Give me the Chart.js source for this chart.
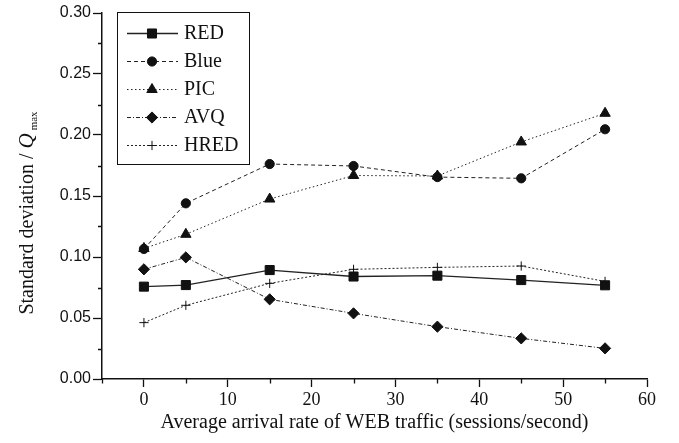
<!DOCTYPE html>
<html>
<head>
<meta charset="utf-8">
<title>Standard deviation vs WEB traffic</title>
<script src="https://cdn.jsdelivr.net/npm/chart.js@4/dist/chart.umd.min.js"></script>
<style>
    html, body { margin: 0; padding: 0; background: #fff; }
    #wrap { width: 679px; height: 443px; }
</style>
</head>
<body>
<div id="wrap"><canvas id="std-chart" width="679" height="443"></canvas></div>
<script>
"use strict"

// Arrival rate (sessions/second) of the simulated WEB traffic
const arrivalRates = [0, 5, 15, 25, 35, 45, 55];

// Standard deviation of the queue, normalised by Q max
const redValues = [0.0757, 0.0770, 0.0893, 0.0840, 0.0847, 0.0811, 0.0768];
const blueValues = [0.1066, 0.1440, 0.1762, 0.1746, 0.1655, 0.1645, 0.2047];
const picValues = [0.1070, 0.1186, 0.1475, 0.1668, 0.1664, 0.1943, 0.2178];
const avqValues = [0.0899, 0.0997, 0.0653, 0.0538, 0.0429, 0.0333, 0.0251];
const hredValues = [0.0462, 0.0604, 0.0784, 0.0899, 0.0915, 0.0926, 0.0800];

const seriesNames = ['RED', 'Blue', 'PIC', 'AVQ', 'HRED'];

const xTicks = [0, 10, 20, 30, 40, 50, 60];
const xMinorTicks = [-5, 5, 15, 25, 35, 45, 55];
const yTicks = [0, 0.05, 0.10, 0.15, 0.20, 0.25, 0.30];
const yMinorTicks = [0.025, 0.075, 0.125, 0.175, 0.225, 0.275];

const serif = '"Liberation Serif", "Times New Roman", serif';
const sans = '"Liberation Sans", Arial, sans-serif';
const ink = '#111';

/**
 * Builds one line dataset with its marker and dash pattern.
 */
function makeSeries(label, values, pointStyle, radius, dash, width) {
    return {
        label: label,
        data: arrivalRates.map((x, i) => ({ x: x, y: values[i] })),
        borderColor: '#222',
        backgroundColor: ink,
        borderWidth: width,
        borderDash: dash,
        pointStyle: pointStyle,
        pointRadius: radius,
        pointBorderColor: ink,
        pointBackgroundColor: ink,
        pointBorderWidth: 1,
        tension: 0,
        fill: false
    };
}

const datasets = [
    makeSeries(seriesNames[0], redValues, 'rect', 6.4, [], 1.3),
    makeSeries(seriesNames[1], blueValues, 'circle', 4.6, [4, 3], 1),
    makeSeries(seriesNames[2], picValues, 'triangle', 6, [1.5, 2.5], 1),
    makeSeries(seriesNames[3], avqValues, 'rectRot', 5.6, [4, 2, 1, 2], 1),
    makeSeries(seriesNames[4], hredValues, 'cross', 4.6, [2, 2], 1)
];

/**
 * Small outward ticks between the labelled ones.
 */
const minorTicks = {
    id: 'minorTicks',
    afterDraw(chart) {
        const { ctx, scales: { x, y } } = chart;
        ctx.save();
        ctx.strokeStyle = ink;
        ctx.lineWidth = 1.3;
        ctx.beginPath();
        xMinorTicks.forEach(v => {
            const px = Math.round(x.getPixelForValue(v)) + 0.5;
            ctx.moveTo(px, x.top);
            ctx.lineTo(px, x.top + 4.5);
        });
        yMinorTicks.forEach(v => {
            const py = Math.round(y.getPixelForValue(v)) + 0.5;
            ctx.moveTo(y.right, py);
            ctx.lineTo(y.right - 4, py);
        });
        ctx.stroke();
        ctx.restore();
    }
};

/**
 * Vertical axis title, with an italic Q and a "max" subscript.
 */
const yTitle = {
    id: 'yTitle',
    afterDraw(chart) {
        const ctx = chart.ctx;
        const main = 'Standard deviation / ';
        const q = 'Q';
        const sub = 'max';
        ctx.save();
        ctx.fillStyle = ink;
        ctx.textBaseline = 'alphabetic';

        ctx.font = '20px ' + serif;
        const wMain = ctx.measureText(main).width;
        ctx.font = 'italic 21px ' + serif;
        const wQ = ctx.measureText(q).width;
        ctx.font = '11px ' + serif;
        const wSub = ctx.measureText(sub).width;
        const total = wMain + wQ + 3 + wSub;

        ctx.translate(33, 213);
        ctx.rotate(-Math.PI / 2);
        let pos = -total / 2;
        ctx.font = '20px ' + serif;
        ctx.fillText(main, pos, 0);
        pos += wMain;
        ctx.font = 'italic 21px ' + serif;
        ctx.fillText(q, pos, 0);
        pos += wQ + 3;
        ctx.font = '11px ' + serif;
        ctx.fillText(sub, pos, 4);
        ctx.restore();
    }
};

/**
 * Boxed legend in the top-left corner, each entry a short line with its marker.
 */
const boxLegend = {
    id: 'boxLegend',
    afterDraw(chart) {
        const ctx = chart.ctx;
        const box = { left: 117.5, top: 12.5, right: 249.5, bottom: 164.5 };
        ctx.save();
        ctx.fillStyle = '#fff';
        ctx.fillRect(box.left, box.top, box.right - box.left, box.bottom - box.top);
        ctx.strokeStyle = ink;
        ctx.lineWidth = 1;
        ctx.strokeRect(box.left, box.top, box.right - box.left, box.bottom - box.top);

        chart.data.datasets.forEach((ds, i) => {
            const rowY = 33 + i * 28;
            ctx.save();
            ctx.strokeStyle = ds.borderColor;
            ctx.lineWidth = ds.borderWidth;
            ctx.setLineDash(ds.borderDash);
            ctx.beginPath();
            ctx.moveTo(127, rowY + 0.5);
            ctx.lineTo(178, rowY + 0.5);
            ctx.stroke();
            ctx.restore();

            ctx.fillStyle = ink;
            ctx.strokeStyle = ink;
            Chart.helpers.drawPoint(ctx, {
                pointStyle: ds.pointStyle,
                radius: ds.pointRadius,
                rotation: 0,
                borderWidth: 1
            }, 152, rowY + 0.5);

            ctx.fillStyle = ink;
            ctx.font = '20px ' + serif;
            ctx.textBaseline = 'middle';
            ctx.textAlign = 'left';
            ctx.fillText(ds.label, 184, rowY + 1);
        });
        ctx.restore();
    }
};

new Chart(document.getElementById('std-chart'), {
    type: 'line',
    data: { datasets: datasets },
    options: {
        responsive: false,
        animation: false,
        devicePixelRatio: 1,
        layout: { padding: { top: 13, right: 32, left: 0, bottom: 0 } },
        plugins: {
            legend: { display: false },
            tooltip: { enabled: false }
        },
        scales: {
            x: {
                type: 'linear',
                min: -5,
                max: 60,
                afterFit: scale => { scale.height = 64; },
                afterBuildTicks: scale => { scale.ticks = xTicks.map(v => ({ value: v })); },
                border: { color: ink, width: 1.5 },
                grid: { drawOnChartArea: false, drawTicks: true, tickLength: 8, tickColor: ink, tickWidth: 1.3 },
                ticks: {
                    color: ink,
                    padding: 2,
                    maxRotation: 0,
                    font: { family: serif, size: 18 },
                    callback: v => String(v)
                },
                title: {
                    display: true,
                    text: 'Average arrival rate of WEB traffic (sessions/second)',
                    color: ink,
                    font: { family: serif, size: 20 },
                    padding: { top: 0, bottom: 8 }
                }
            },
            y: {
                type: 'linear',
                min: 0,
                max: 0.3,
                afterFit: scale => { scale.width = 102; },
                afterBuildTicks: scale => { scale.ticks = yTicks.map(v => ({ value: v })); },
                border: { color: ink, width: 1.5 },
                grid: { drawOnChartArea: false, drawTicks: true, tickLength: 9, tickColor: ink, tickWidth: 1.3 },
                ticks: {
                    color: ink,
                    padding: 2,
                    font: { family: sans, size: 16 },
                    callback: v => Number(v).toFixed(2)
                },
                title: { display: false }
            }
        }
    },
    plugins: [minorTicks, yTitle, boxLegend]
});
</script>
</body>
</html>
